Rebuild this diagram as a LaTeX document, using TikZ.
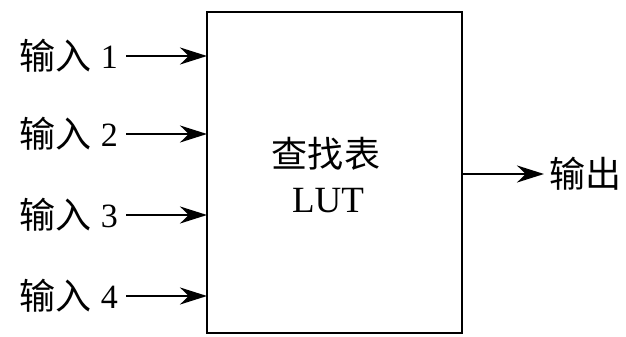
\documentclass[tikz,border=0pt]{standalone}
\usepackage{fontspec}
\setmainfont{Liberation Serif}
\newfontfamily\cjk{Noto Sans CJK SC}[Scale=1.06]
\usetikzlibrary{arrows.meta}
\begin{document}
\begin{tikzpicture}[x=1pt,y=-1pt,
  lbl/.style={font=\fontsize{34}{37}\selectfont, inner sep=0pt},
  conn/.style={line width=2.6pt, -{Stealth[length=27pt,width=17pt]}}]
\useasboundingbox (0,0) rectangle (626,337);
\node[draw, line width=2.6pt, minimum width=255pt, minimum height=321pt, inner sep=0pt] (lut) at (334.5,172.5) {};
\node[lbl, anchor=base] (t1) at (326,167) {\cjk 查找表};
\node[lbl, anchor=base, font=\fontsize{37}{40}\selectfont] (t2) at (328,212) {LUT};
\foreach \i/\y in {1/56,2/134,3/215,4/296}{
  \node[lbl, anchor=east] (in\i) at (118,\y) {{\cjk 输入}\hspace{9pt}\raisebox{1.5pt}{\i}};
  \coordinate (t\i) at (207,\y);
  \draw[conn] (in\i.east) ++(8,0) -- (t\i);
}
\coordinate (o) at (463,174);
\node[lbl, anchor=west] (out) at (549,174) {\cjk 输出};
\draw[conn] (o) -- ([xshift=-5pt]out.west);
\end{tikzpicture}
\end{document}
